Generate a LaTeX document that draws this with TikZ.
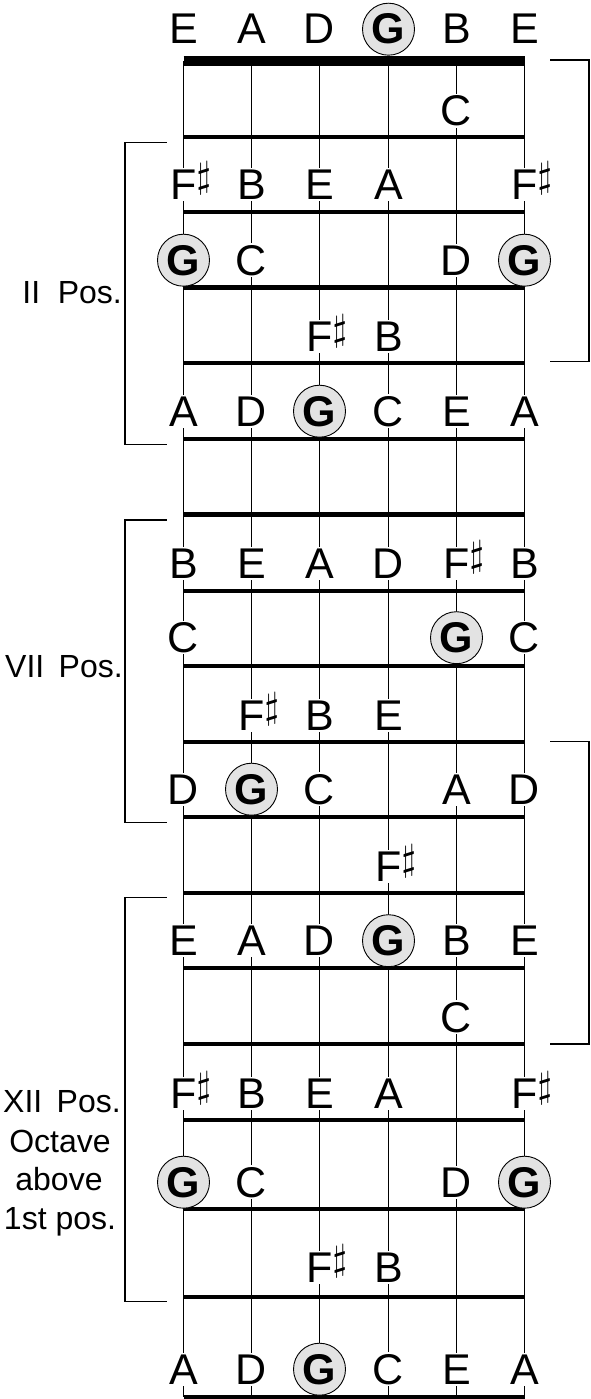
\documentclass[tikz,border=0pt]{standalone}
\usepackage{fontspec}
\setmainfont{Liberation Sans}
\usepackage{graphicx}
\usepackage{tikz}

\newcommand{\notefont}{\fontsize{43}{48}\selectfont}
\newcommand{\posfont}{\fontsize{32}{38}\selectfont}
\newcommand{\sharpsup}{\rlap{\smash{\raisebox{11.5pt}{\scalebox{3.7}{\normalsize$\sharp$}}}}}

\begin{document}
\begin{tikzpicture}[x=1pt, y=-1pt,
    note/.style={font=\notefont, fill=white, inner sep=1.5pt, anchor=base},
    root/.style={circle, draw, line width=0.9pt, fill=black!11, inner sep=0pt,
      minimum size=52pt, font=\notefont\bfseries, anchor=base},
    posname/.style={font=\posfont, inner sep=0pt},
    fret/.style={line width=4.2pt},
    bracket/.style={line width=1.2pt}]
  \useasboundingbox (0,0) rectangle (590,1399);

  % Strings
  \foreach \s in {1,...,6}
    \draw[line width=1.25pt] ({floor(68.2*\s+115.3)+0.5},61) -- ({floor(68.2*\s+115.3)+0.5},1397);

  % Nut and frets
  \draw[line width=10pt] (183.5,61) -- (524.5,61);
  \foreach \f in {136.7,212,287.5,362.7,439.3,514.5,590.7,666,741.7,817.3,
                  892.7,968.3,1044,1120.3,1209.3,1296.7,1396.7}
    \draw[fret] (183.5,\f) -- (524.5,\f);

  % Notes, one row per fret
  \foreach \s/\n in {1/E,2/A,3/D,5/B,6/E}
    \node[note] (n0-\s) at ({floor(68.2*\s+115.3)+0.5},44) {\n};
  \node[root] (n0-4) at (388.5,44) {G};

  \node[note] (n1-5) at (456.5,126) {C};

  \foreach \s/\n in {1/F\sharpsup,2/B,3/E,4/A,6/F\sharpsup}
    \node[note] (n2-\s) at ({floor(68.2*\s+115.3)+0.5},199.5) {\n};

  \foreach \s/\n in {2/C,5/D}
    \node[note] (n3-\s) at ({floor(68.2*\s+115.3)+0.5},275) {\n};
  \node[root] (n3-1) at (183.5,275) {G};
  \node[root] (n3-6) at (524.5,275) {G};

  \foreach \s/\n in {3/F\sharpsup,4/B}
    \node[note] (n4-\s) at ({floor(68.2*\s+115.3)+0.5},351.5) {\n};

  \foreach \s/\n in {1/A,2/D,4/C,5/E,6/A}
    \node[note] (n5-\s) at ({floor(68.2*\s+115.3)+0.5},426) {\n};
  \node[root] (n5-3) at (319.5,426) {G};

  \foreach \s/\n in {1/B,2/E,3/A,4/D,5/F\sharpsup,6/B}
    \node[note] (n7-\s) at ({floor(68.2*\s+115.3)+0.5},578) {\n};

  \foreach \s/\n in {1/C,6/C}
    \node[note] (n8-\s) at ({floor(68.2*\s+115.3)+0.5},652.5) {\n};
  \node[root] (n8-5) at (456.5,652.5) {G};

  \foreach \s/\n in {2/F\sharpsup,3/B,4/E}
    \node[note] (n9-\s) at ({floor(68.2*\s+115.3)+0.5},730) {\n};

  \foreach \s/\n in {1/D,3/C,5/A,6/D}
    \node[note] (n10-\s) at ({floor(68.2*\s+115.3)+0.5},804) {\n};
  \node[root] (n10-2) at (251.5,804) {G};

  \node[note] (n11-4) at (388.5,881.5) {F\sharpsup};

  \foreach \s/\n in {1/E,2/A,3/D,5/B,6/E}
    \node[note] (n12-\s) at ({floor(68.2*\s+115.3)+0.5},955.5) {\n};
  \node[root] (n12-4) at (388.5,955.5) {G};

  \node[note] (n13-5) at (456.5,1032) {C};

  \foreach \s/\n in {1/F\sharpsup,2/B,3/E,4/A,6/F\sharpsup}
    \node[note] (n14-\s) at ({floor(68.2*\s+115.3)+0.5},1108.5) {\n};

  \foreach \s/\n in {2/C,5/D}
    \node[note] (n15-\s) at ({floor(68.2*\s+115.3)+0.5},1197) {\n};
  \node[root] (n15-1) at (183.5,1197) {G};
  \node[root] (n15-6) at (524.5,1197) {G};

  \foreach \s/\n in {3/F\sharpsup,4/B}
    \node[note] (n16-\s) at ({floor(68.2*\s+115.3)+0.5},1282) {\n};

  \foreach \s/\n in {1/A,2/D,4/C,5/E,6/A}
    \node[note] (n17-\s) at ({floor(68.2*\s+115.3)+0.5},1384) {\n};
  \node[root] (n17-3) at (319.5,1384) {G};

  % Position brackets
  \draw[bracket] (166.5,142.7) -- (125,142.7) -- (125,444.3) -- (166.5,444.3);
  \draw[bracket] (166.5,520) -- (125,520) -- (125,822.7) -- (166.5,822.7);
  \draw[bracket] (166.5,897.3) -- (125,897.3) -- (125,1301.7) -- (166.5,1301.7);
  \draw[bracket] (550,60) -- (588.9,60) -- (588.9,361.7) -- (550,361.7);
  \draw[bracket] (550,741.7) -- (588.9,741.7) -- (588.9,1044) -- (550,1044);

  % Position names
  \node[posname, anchor=base east] (pos2) at (122,303.5) {II\hspace{0.55em}Pos.};
  \node[posname, anchor=base east] (pos7) at (123,677.5) {VII\hspace{0.45em}Pos.};
  \node[posname, anchor=base east] (pos12) at (121,1112) {XII\hspace{0.45em}Pos.};
  \node[posname, anchor=base] (oct1) at (60,1152) {Octave};
  \node[posname, anchor=base] (oct2) at (59,1190.5) {above};
  \node[posname, anchor=base] (oct3) at (60,1229) {1st pos.};
\end{tikzpicture}
\end{document}
